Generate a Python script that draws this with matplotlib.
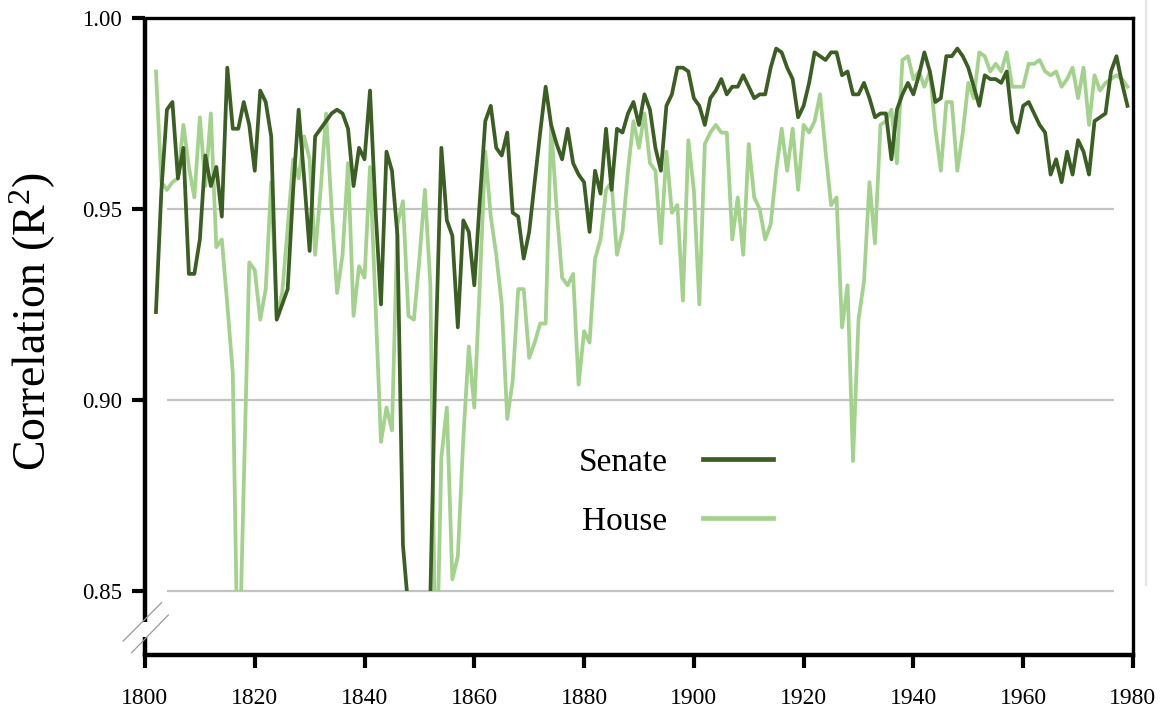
import numpy as np
import matplotlib
matplotlib.use("Agg")
import matplotlib.pyplot as plt
from matplotlib.lines import Line2D
from matplotlib.patches import Rectangle

years = np.arange(1802, 1980)

senate = [
    0.923, 0.955, 0.976, 0.978, 0.958, 0.966, 0.933, 0.933, 0.942, 0.964,  # 1802-1811
    0.956, 0.961, 0.948, 0.987, 0.971, 0.971, 0.978, 0.972, 0.960, 0.981,  # 1812-1821
    0.978, 0.969, 0.921, 0.925, 0.929, 0.955, 0.976, 0.958, 0.939, 0.969,  # 1822-1831
    0.971, 0.973, 0.975, 0.976, 0.975, 0.971, 0.956, 0.966, 0.963, 0.981,  # 1832-1841
    0.950, 0.925, 0.965, 0.960, 0.943, 0.862, 0.845, 0.800, 0.800, 0.800,  # 1842-1851
    0.849, 0.915, 0.966, 0.947, 0.943, 0.919, 0.947, 0.944, 0.930, 0.952,  # 1852-1861
    0.973, 0.977, 0.966, 0.964, 0.970, 0.949, 0.948, 0.937, 0.944, 0.957,  # 1862-1871
    0.970, 0.982, 0.972, 0.967, 0.963, 0.971, 0.962, 0.959, 0.957, 0.944,  # 1872-1881
    0.960, 0.954, 0.971, 0.955, 0.971, 0.970, 0.975, 0.978, 0.972, 0.980,  # 1882-1891
    0.976, 0.966, 0.960, 0.977, 0.980, 0.987, 0.987, 0.986, 0.979, 0.977,  # 1892-1901
    0.972, 0.979, 0.981, 0.984, 0.980, 0.982, 0.982, 0.985, 0.982, 0.979,  # 1902-1911
    0.980, 0.980, 0.987, 0.992, 0.991, 0.987, 0.984, 0.974, 0.977, 0.983,  # 1912-1921
    0.991, 0.990, 0.989, 0.991, 0.991, 0.985, 0.986, 0.980, 0.980, 0.983,  # 1922-1931
    0.979, 0.974, 0.975, 0.975, 0.963, 0.976, 0.980, 0.983, 0.980, 0.985,  # 1932-1941
    0.991, 0.986, 0.978, 0.979, 0.990, 0.990, 0.992, 0.990, 0.987, 0.982,  # 1942-1951
    0.977, 0.985, 0.984, 0.984, 0.983, 0.986, 0.973, 0.970, 0.977, 0.978,  # 1952-1961
    0.975, 0.972, 0.970, 0.959, 0.963, 0.957, 0.965, 0.959, 0.968, 0.965,  # 1962-1971
    0.959, 0.973, 0.974, 0.975, 0.986, 0.990, 0.983, 0.977,                # 1972-1979
]

house = [
    0.986, 0.957, 0.955, 0.957, 0.958, 0.972, 0.961, 0.953, 0.974, 0.956,  # 1802-1811
    0.975, 0.940, 0.942, 0.925, 0.907, 0.820, 0.878, 0.936, 0.934, 0.921,  # 1812-1821
    0.929, 0.957, 0.922, 0.928, 0.945, 0.963, 0.958, 0.969, 0.963, 0.938,  # 1822-1831
    0.955, 0.975, 0.950, 0.928, 0.938, 0.962, 0.922, 0.935, 0.932, 0.961,  # 1832-1841
    0.925, 0.889, 0.898, 0.892, 0.946, 0.952, 0.922, 0.921, 0.937, 0.955,  # 1842-1851
    0.930, 0.820, 0.885, 0.898, 0.853, 0.859, 0.890, 0.914, 0.898, 0.930,  # 1852-1861
    0.965, 0.948, 0.938, 0.925, 0.895, 0.905, 0.929, 0.929, 0.911, 0.915,  # 1862-1871
    0.920, 0.920, 0.972, 0.950, 0.932, 0.930, 0.933, 0.904, 0.918, 0.915,  # 1872-1881
    0.937, 0.942, 0.955, 0.957, 0.938, 0.944, 0.960, 0.973, 0.966, 0.975,  # 1882-1891
    0.962, 0.960, 0.941, 0.965, 0.949, 0.951, 0.926, 0.968, 0.955, 0.925,  # 1892-1901
    0.967, 0.970, 0.972, 0.970, 0.970, 0.942, 0.953, 0.938, 0.967, 0.953,  # 1902-1911
    0.950, 0.942, 0.946, 0.960, 0.971, 0.960, 0.971, 0.955, 0.972, 0.970,  # 1912-1921
    0.973, 0.980, 0.965, 0.951, 0.953, 0.919, 0.930, 0.884, 0.921, 0.931,  # 1922-1931
    0.957, 0.941, 0.972, 0.973, 0.976, 0.962, 0.989, 0.990, 0.984, 0.986,  # 1932-1941
    0.982, 0.986, 0.971, 0.960, 0.978, 0.978, 0.960, 0.970, 0.983, 0.979,  # 1942-1951
    0.991, 0.990, 0.986, 0.988, 0.986, 0.991, 0.982, 0.982, 0.982, 0.988,  # 1952-1961
    0.988, 0.989, 0.986, 0.985, 0.986, 0.982, 0.984, 0.987, 0.979, 0.987,  # 1962-1971
    0.972, 0.985, 0.981, 0.983, 0.984, 0.985, 0.984, 0.982,                # 1972-1979
]

x_ticks = np.arange(1800, 1981, 20)
y_ticks = [0.85, 0.90, 0.95, 1.00]
grid_levels = [0.85, 0.90, 0.95]

SENATE_COLOR = "#3b5e22"
HOUSE_COLOR = "#a2d28c"


def main():
    plt.rcParams["font.family"] = ["Liberation Serif", "DejaVu Serif"]
    plt.rcParams["mathtext.default"] = "regular"

    fig = plt.figure(figsize=(11.71, 7.17), dpi=100)
    ax = fig.add_axes([0.1238, 0.0865, 0.8437, 0.8884])

    ax.set_xlim(1800, 1980)
    ax.set_ylim(0.8332, 1.0)

    # grid lines stop short of the frame
    ax.hlines(grid_levels, 1804, 1976.5, color="#c3c3c3", lw=1.6, zorder=1)

    # values under 0.85 are cut off at the lowest grid line
    clip = Rectangle((1790, 0.85), 200, 0.3, transform=ax.transData)
    l1, = ax.plot(years, senate, color=SENATE_COLOR, lw=2.7, label="Senate", zorder=3)
    l2, = ax.plot(years, house, color=HOUSE_COLOR, lw=2.7, label="House", zorder=2)
    l1.set_clip_path(clip)
    l2.set_clip_path(clip)

    leg = ax.legend(handles=[l1, l2], loc="center", bbox_to_anchor=(0.537, 0.256),
                    frameon=False, markerfirst=False, fontsize=24,
                    handlelength=2.1, handletextpad=1.05, labelspacing=0.85)
    for ln in leg.get_lines():
        ln.set_linewidth(3.4)

    ax.set_xticks(x_ticks)
    ax.set_xticklabels([str(t) for t in x_ticks])
    ax.set_yticks(y_ticks)
    ax.set_yticklabels(["%.2f" % t for t in y_ticks])
    ax.tick_params(axis="x", direction="out", length=9.5, width=3, pad=14, labelsize=17)
    ax.tick_params(axis="y", direction="out", length=9.5, width=3, pad=7, labelsize=16.5)

    ax.set_ylabel("Correlation (R$^2$)", fontsize=33)
    ax.yaxis.set_label_coords(-0.088, 0.524)

    for side in ["top", "right"]:
        ax.spines[side].set_linewidth(2.4)
    ax.spines["bottom"].set_linewidth(3.2)
    ax.spines["left"].set_visible(False)

    # left axis drawn in two pieces with a break near the bottom
    ax.plot([0, 0], [0.0518, 1.0], transform=ax.transAxes, color="black",
            lw=3.2, clip_on=False, solid_capstyle="butt")
    ax.plot([0, 0], [-0.002, 0.0283], transform=ax.transAxes, color="black",
            lw=3.2, clip_on=False, solid_capstyle="butt")
    ax.plot([-0.022, 0.0168], [0.022, 0.0821], transform=ax.transAxes,
            color="#9a9a9a", lw=0.9, clip_on=False)
    ax.plot([-0.0135, 0.0236], [0.0036, 0.0628], transform=ax.transAxes,
            color="#9a9a9a", lw=0.9, clip_on=False)

    # faint edge line at the far right
    fig.add_artist(Line2D([0.9785, 0.9785], [0.184, 1.0], color="#e6e6e6", lw=1.6))

    fig.savefig("out.png", dpi=100)


if __name__ == "__main__":
    main()
